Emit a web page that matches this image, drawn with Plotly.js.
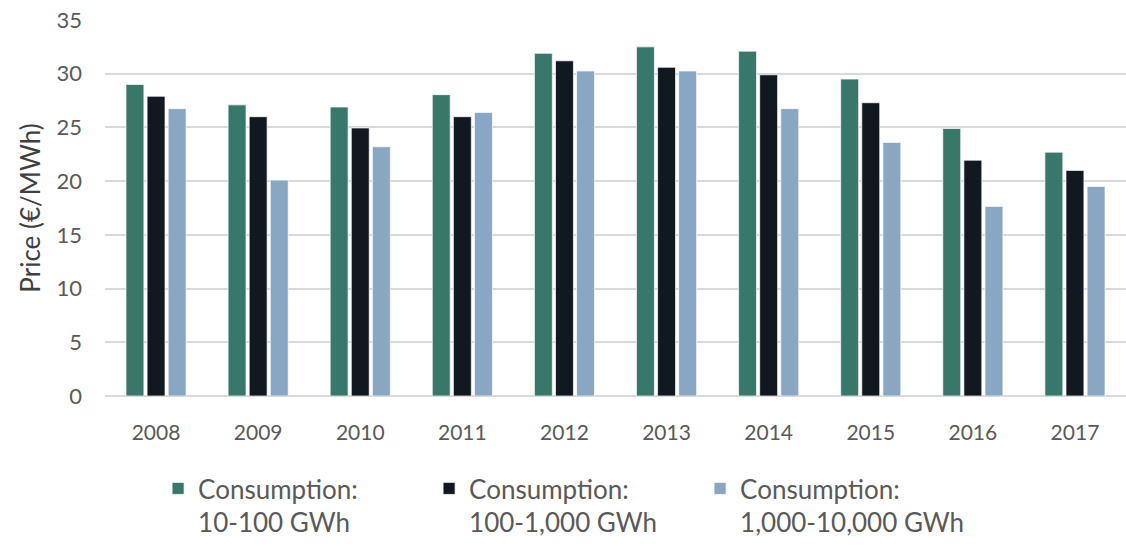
<!DOCTYPE html>
<html>
<head>
<meta charset="utf-8">
<script src="https://cdn.plot.ly/plotly-3.0.1.min.js"></script>
<style>html,body{margin:0;padding:0;background:#fff;}#chart{width:1126px;height:546px;}</style>
</head>
<body>
<div id="chart"></div>
<script>
const years = ['2008','2009','2010','2011','2012','2013','2014','2015','2016','2017'];
const seriesNames = ['Consumption:<br>10-100 GWh','Consumption:<br>100-1,000 GWh','Consumption:<br>1,000-10,000 GWh'];
const small = [29.0, 27.1, 26.9, 28.05, 31.9, 32.5, 32.1, 29.5, 24.9, 22.7];
const medium = [27.9, 26.0, 24.95, 26.0, 31.2, 30.6, 29.9, 27.3, 21.95, 21.0];
const large = [26.75, 20.1, 23.2, 26.4, 30.25, 30.25, 26.75, 23.6, 17.65, 19.5];
const colors = ['#38786b', '#111820', '#89a7c2'];
const yTicks = [0,5,10,15,20,25,30,35];

const values = [small, medium, large];
const traces = values.map((v, i) => ({
  type: 'bar', x: years, y: v, name: seriesNames[i],
  marker: {color: colors[i], line: {color: 'rgba(255,255,255,0.7)', width: 1}},
  hoverinfo: 'x+y'
}));

const layout = {
  width: 1126, height: 546,
  margin: {l: 105, r: 0, t: 20, b: 150},
  paper_bgcolor: '#fff', plot_bgcolor: '#fff',
  font: {family: 'Lato, "Open Sans", sans-serif', color: '#595959'},
  barmode: 'group', bargap: 0.38, bargroupgap: 0.15,
  xaxis: {type: 'category', tickfont: {size: 21, color: '#595959'}, showgrid: false, showline: false,
    ticks: '', ticklen: 0, ticklabelstandoff: 22},
  yaxis: {range: [0, 35], tickvals: yTicks, ticktext: yTicks.map(String), tickfont: {size: 22, color: '#595959'},
    showgrid: true, gridcolor: '#d9d9d9', gridwidth: 2, zeroline: true, zerolinecolor: '#d9d9d9', zerolinewidth: 2,
    ticks: '', ticklen: 0, showline: false, ticklabelstandoff: 22,
    title: {text: 'Price (€/MWh)', font: {size: 26, color: '#404040'}, standoff: 8}},
  legend: {orientation: 'h', x: 0.052, xanchor: 'left', y: -0.185, yanchor: 'top',
    font: {size: 26, color: '#595959'}, valign: 'top', itemwidth: 30, traceorder: 'normal',
    entrywidth: 226, entrywidthmode: 'pixels', tracegroupgap: 0},
  showlegend: true
};

Plotly.newPlot('chart', traces, layout, {displayModeBar: false, staticPlot: true});
</script>
</body>
</html>
